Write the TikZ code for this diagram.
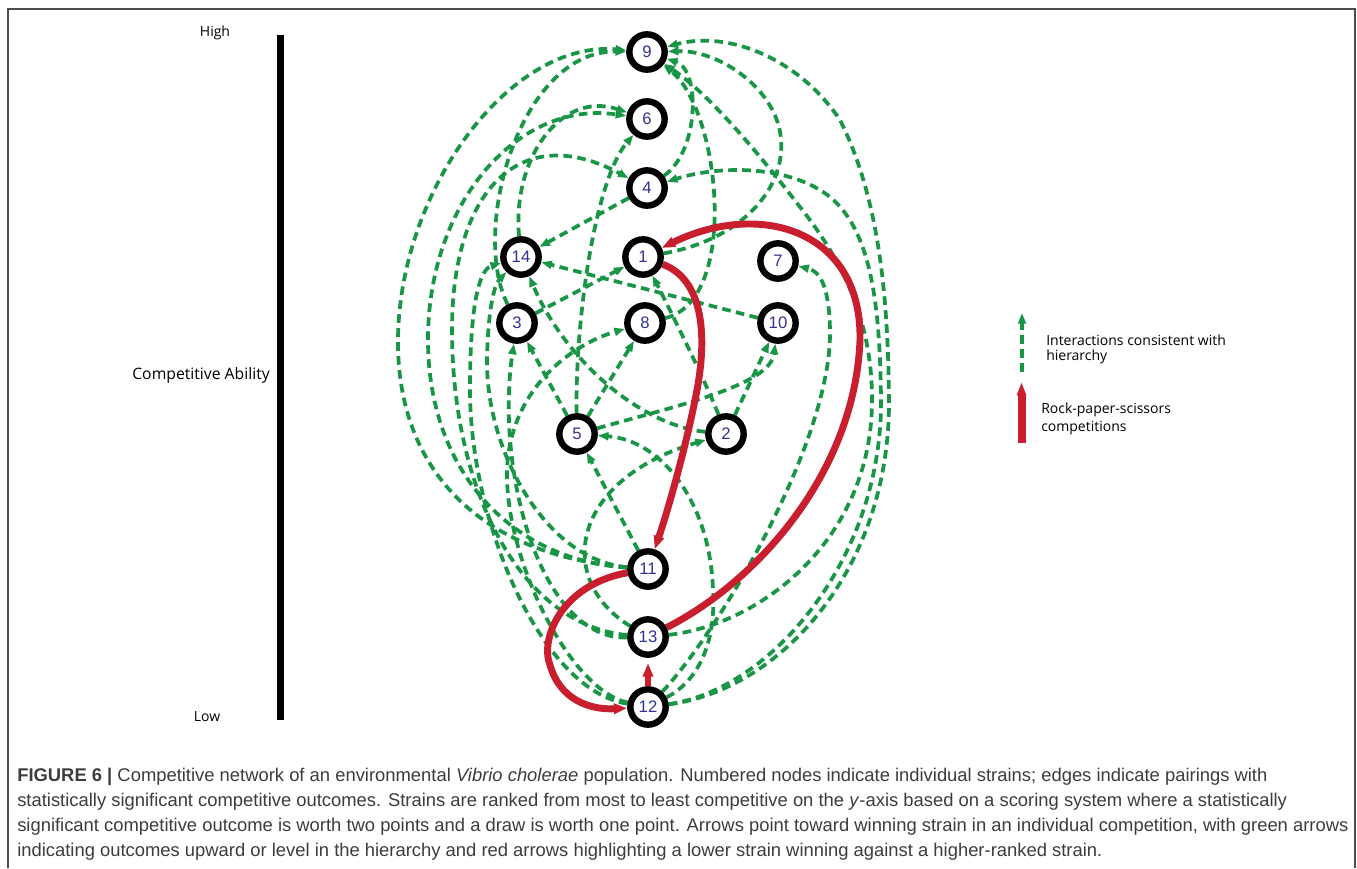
\documentclass[tikz,border=0pt]{standalone}
\usepackage{fontspec}
\setmainfont{Liberation Sans}
\newfontfamily\labfont{Open Sans}
\usetikzlibrary{arrows.meta,backgrounds}
\definecolor{gr}{RGB}{24,150,70}
\definecolor{rd}{RGB}{200,30,45}
\definecolor{numc}{RGB}{50,50,150}
\definecolor{capc}{RGB}{60,60,60}
\begin{document}
\begin{tikzpicture}[x=0.75pt,y=-0.75pt,
  strain/.style={circle,draw=black,line width=4.8pt,fill=white,minimum size=26.5pt,inner sep=0pt,font=\fontsize{12.5}{13}\selectfont,text=numc},
  ge/.style={draw=gr,line width=2.8pt,dash pattern=on 6.5pt off 4pt,-{Triangle[length=8pt,width=5.8pt]}},
  re/.style={draw=rd,line width=5.2pt,-{Triangle[length=10pt,width=7.5pt]}},
  lab/.style={font=\labfont\fontsize{10.5}{12}\selectfont,text=black,inner sep=0pt},
  captext/.style={font=\fontsize{13.8}{16}\selectfont,text=capc,inner sep=0pt,anchor=base west}]
\useasboundingbox (0,0) rectangle (1357,868);
% frame
\draw[line width=1.1pt,black!70] (8,868) -- (8,9) -- (1355,9) -- (1355,868);
% axis
\fill[black] (277,35) rectangle (284,720);
\node[lab] (high) at (215,33) {High};
\node[lab,anchor=east,font=\labfont\fontsize{11.8}{13}\selectfont] (cab) at (270,375) {Competitive Ability};
\node[lab] (low) at (207,717) {Low};
% strains
\node[strain] (n9) at (647,52) {9};
\node[strain] (n6) at (647,119) {6};
\node[strain] (n4) at (647,188) {4};
\node[strain] (n14) at (521,257) {14};
\node[strain] (n1) at (643,257) {1};
\node[strain] (n7) at (778,261) {7};
\node[strain] (n3) at (517,323) {3};
\node[strain] (n8) at (645,323) {8};
\node[strain] (n10) at (778,323) {10};
\node[strain] (n5) at (577,434) {5};
\node[strain] (n2) at (726,434) {2};
\node[strain] (n11) at (648,569) {11};
\node[strain] (n13) at (648,637) {13};
\node[strain] (n12) at (648,707) {12};
\begin{scope}[on background layer]
% right arcs
\draw[ge] (n12) .. controls (780,690) and (890,570) .. (889,400) .. controls (888,300) and (880,200) .. (840,120) .. controls (800,60) and (730,30) .. (n9);
\draw[ge] (n13) .. controls (760,625) and (872,540) .. (872,400) .. controls (872,330) and (850,270) .. (800,207) .. controls (760,155) and (710,95) .. (n9);
\draw[ge] (n12) .. controls (770,690) and (882,560) .. (881,400) .. controls (880,300) and (870,230) .. (830,197) .. controls (790,165) and (720,165) .. (n4);
\draw[ge] (n12) .. controls (720,630) and (832,440) .. (830,330) .. controls (829,290) and (822,272) .. (n7);
\draw[ge] (n1) .. controls (740,240) and (785,190) .. (781,140) .. controls (778,90) and (720,50) .. (n9);
\draw[ge] (n4) .. controls (700,150) and (700,70) .. (n9);
\draw[ge] (n8) .. controls (740,300) and (720,110) .. (n9);
% left arcs
\draw[ge] (n11) .. controls (480,555) and (397,470) .. (398,340) .. controls (399,190) and (510,40) .. (n9);
\draw[ge] (n11) .. controls (510,560) and (428,470) .. (428,340) .. controls (428,200) and (520,100) .. (n6);
\draw[ge] (n13) .. controls (520,625) and (452,490) .. (452,330) .. controls (452,190) and (520,120) .. (n4);
\draw[ge] (n12) .. controls (540,690) and (470,520) .. (470,390) .. controls (470,310) and (478,270) .. (n14);
\draw[ge] (n11) .. controls (545,560) and (486,450) .. (487,360) .. controls (488,310) and (494,285) .. (n14);
\draw[ge] (n13) .. controls (540,640) and (495,470) .. (n3);
\draw[ge] (n12) .. controls (570,690) and (505,560) .. (507,470) .. controls (510,390) and (570,345) .. (n8);
\draw[ge] (n3) .. controls (470,230) and (520,50) .. (n9);
\draw[ge] (n14) .. controls (512,160) and (560,90) .. (n6);
% middle
\draw[ge] (n5) .. controls (575,320) and (595,180) .. (n6);
\draw[ge] (n3) -- (n1);
\draw[ge] (n4) -- (n14);
\draw[ge] (n10) -- (n14);
\draw[ge] (n5) -- (n3);
\draw[ge] (n5) -- (n8);
\draw[ge] (n11) -- (n5);
\draw[ge] (n2) -- (n10);
\draw[ge] (n2) .. controls (705,380) and (665,300) .. (n1);
\draw[ge] (n2) .. controls (640,425) and (565,360) .. (n14);
\draw[ge] (n5) .. controls (680,405) and (770,385) .. (n10);
\draw[ge] (n13) .. controls (555,580) and (570,480) .. (n2);
\draw[ge] (n12) .. controls (700,680) and (716,640) .. (713,590) .. controls (710,500) and (660,440) .. (n5);
% red
\draw[re] (n1) .. controls (705,280) and (708,340) .. (695,400) .. controls (685,450) and (668,510) .. (n11);
\draw[re] (n13) .. controls (760,580) and (855,470) .. (860,340) .. controls (862,230) and (760,200) .. (n1);
\draw[re] (n11) .. controls (560,585) and (540,640) .. (550,665) .. controls (560,700) and (590,710) .. (n12);
\draw[re,shorten >=4pt] (n12) -- (n13);
\end{scope}
% legend
\coordinate (lg1) at (1022,372);
\coordinate (lg2) at (1022,313);
\draw[ge] (lg1) -- (lg2);
\coordinate (lr1) at (1021.5,443);
\coordinate (lr2) at (1021.5,382);
\draw[draw=rd,line width=6pt,-{Triangle[length=10pt,width=6.5pt]}] (lr1) -- (lr2);
\node[lab,anchor=west] (t1) at (1046,340) {Interactions consistent with};
\node[lab,anchor=west] (t2) at (1046,357) {hierarchy};
\node[lab,anchor=west] (t3) at (1041,410) {Rock-paper-scissors};
\node[lab,anchor=west] (t4) at (1041,428) {competitions};
% caption
\node[captext] (c1) at (17,781) {\textbf{FIGURE 6 |} Competitive network of an environmental \textit{Vibrio cholerae} population. Numbered nodes indicate individual strains; edges indicate pairings with};
\node[captext] (c2) at (17,806) {statistically significant competitive outcomes. Strains are ranked from most to least competitive on the \textit{y}-axis based on a scoring system where a statistically};
\node[captext] (c3) at (17,831) {significant competitive outcome is worth two points and a draw is worth one point. Arrows point toward winning strain in an individual competition, with green arrows};
\node[captext] (c4) at (17,856) {indicating outcomes upward or level in the hierarchy and red arrows highlighting a lower strain winning against a higher-ranked strain.};
\end{tikzpicture}
\end{document}
